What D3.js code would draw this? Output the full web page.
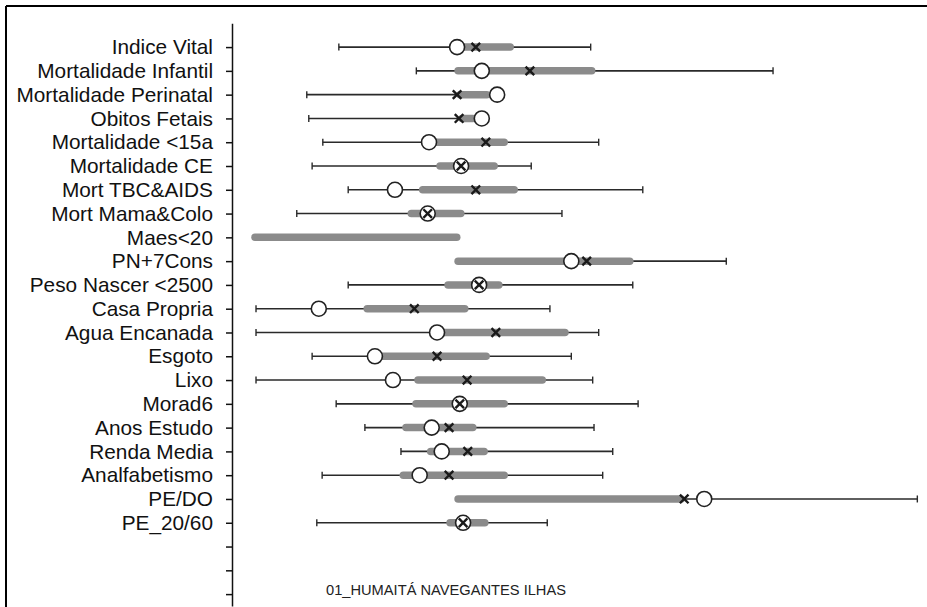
<!DOCTYPE html>
<html lang="pt">
<head>
  <meta charset="UTF-8">
  <title>01_HUMAITÁ NAVEGANTES ILHAS</title>
  <script src="https://d3js.org/d3.v7.min.js"></script>
  <style>
    body { margin: 0; background: #fff; font-family: Arial, "Liberation Sans", sans-serif; }
    svg { display: block; }
    .axis path, .axis line { stroke: #111; stroke-width: 1.5; }
    .axis text { font-size: 20.8px; fill: #111; font-family: Arial, "Liberation Sans", sans-serif; }
  </style>
</head>
<body>
  <svg width="927" height="607"></svg>

  <script>
    // indicators, top to bottom
    const categories = [
      "Indice Vital", "Mortalidade Infantil", "Mortalidade Perinatal", "Obitos Fetais",
      "Mortalidade <15a", "Mortalidade CE", "Mort TBC&AIDS", "Mort Mama&Colo",
      "Maes<20", "PN+7Cons", "Peso Nascer <2500", "Casa Propria", "Agua Encanada",
      "Esgoto", "Lixo", "Morad6", "Anos Estudo", "Renda Media", "Analfabetismo",
      "PE/DO", "PE_20/60"
    ];
    // whisker ends, grey band, district value (circle) and reference mark (x)
    const minVals  = [13.3, 24.9,  8.5,  8.8, 10.9,  9.3, 14.7,  7.0, null, null, 14.7,  0.9,  0.9,  9.3,  0.9, 12.9, 17.2, 22.6, 10.8, null, 10.0];
    const q1Vals   = [31.7, 30.7, 31.0, 31.3, 26.9, 28.0, 25.4, 23.7,  0.3, 30.7, 29.2, 17.1, 28.0, 18.9, 24.7, 24.4, 22.9, 26.6, 22.5, 30.7, 29.5];
    const q3Vals   = [39.4, 51.6, 35.9, 33.8, 38.5, 37.0, 40.0, 32.0, 31.4, 57.3, 37.7, 32.6, 47.6, 35.8, 44.2, 38.5, 33.8, 35.5, 38.5, 65.0, 35.6];
    const maxVals  = [51.0, 78.3, 37.0, 34.7, 52.2, 42.1, 58.8, 46.7, null, 71.3, 57.3, 44.9, 52.2, 48.1, 51.3, 58.1, 51.5, 54.3, 52.8, 99.9, 44.5];
    const areaVals = [31.0, 34.7, 37.0, 34.7, 26.8, 31.6, 21.7, 26.6, null, 48.1, 34.3, 10.3, 28.0, 18.7, 21.4, 31.4, 27.2, 28.7, 25.4, 68.0, 31.9];
    const markVals = [33.8, 41.9, 31.0, 31.3, 35.3, 31.6, 33.8, 26.6, null, 50.4, 34.3, 24.6, 36.8, 28.0, 32.5, 31.4, 29.8, 32.6, 29.8, 65.0, 31.9];
    const slotCount = 24; // 21 indicators + 3 empty ticks at the bottom
    const caption = "01_HUMAITÁ NAVEGANTES ILHAS";

    const rows = categories.map((name, i) => ({
      name, idx: i + 1,
      lo: minVals[i], q1: q1Vals[i], q3: q3Vals[i], hi: maxVals[i],
      area: areaVals[i], mark: markVals[i]
    }));

    const svg = d3.select("svg");

    // frame (top and left edges only)
    svg.append("line").attr("x1", 6).attr("x2", 927).attr("y1", 6).attr("y2", 6)
      .attr("stroke", "#000").attr("stroke-width", 2);
    svg.append("line").attr("x1", 6).attr("x2", 6).attr("y1", 6).attr("y2", 607)
      .attr("stroke", "#000").attr("stroke-width", 2);

    const x = d3.scaleLinear().domain([0, 100]).range([250, 918]);
    const y = d3.scaleLinear().domain([0, slotCount + 0.5]).range([23.3, 606]);

    const axis = d3.axisLeft(y)
      .tickValues(d3.range(1, slotCount + 1))
      .tickFormat(i => categories[i - 1] || "")
      .tickSize(6)
      .tickSizeOuter(0)
      .tickPadding(13);

    svg.append("g")
      .attr("class", "axis")
      .attr("transform", "translate(232,0)")
      .call(axis);

    const g = svg.append("g");
    const row = g.selectAll("g.row").data(rows).join("g")
      .attr("class", "row")
      .attr("transform", d => `translate(0,${y(d.idx)})`);

    // whisker line
    row.filter(d => d.hi != null || d.lo != null)
      .append("line")
      .attr("x1", d => x(d.lo ?? d.q1))
      .attr("x2", d => x(d.hi ?? d.q3))
      .attr("stroke", "#2a2a2a").attr("stroke-width", 1.6);

    // end caps
    row.filter(d => d.lo != null).append("line")
      .attr("x1", d => x(d.lo)).attr("x2", d => x(d.lo))
      .attr("y1", -3.5).attr("y2", 3.5)
      .attr("stroke", "#2a2a2a").attr("stroke-width", 1.4);
    row.filter(d => d.hi != null).append("line")
      .attr("x1", d => x(d.hi)).attr("x2", d => x(d.hi))
      .attr("y1", -3.5).attr("y2", 3.5)
      .attr("stroke", "#2a2a2a").attr("stroke-width", 1.4);

    // grey band
    row.append("line")
      .attr("x1", d => x(d.q1) + 3)
      .attr("x2", d => x(d.q3) - 3)
      .attr("stroke", "#8b8b8b")
      .attr("stroke-width", 7.5)
      .attr("stroke-linecap", "round");

    // district value
    row.filter(d => d.area != null).append("circle")
      .attr("cx", d => x(d.area))
      .attr("r", 7.5)
      .attr("fill", "#fff")
      .attr("stroke", "#222").attr("stroke-width", 1.6);

    // reference mark
    const s = 4.3;
    row.filter(d => d.mark != null).append("path")
      .attr("d", d => {
        const cx = x(d.mark);
        return `M${cx - s},${-s}L${cx + s},${s}M${cx - s},${s}L${cx + s},${-s}`;
      })
      .attr("stroke", "#1a1a1a").attr("stroke-width", 2.4)
      .attr("fill", "none");

    svg.append("text")
      .attr("x", 326).attr("y", 595)
      .attr("font-size", 14)
      .attr("fill", "#222")
      .attr("textLength", 240)
      .attr("lengthAdjust", "spacingAndGlyphs")
      .text(caption);
  </script>
</body>
</html>
